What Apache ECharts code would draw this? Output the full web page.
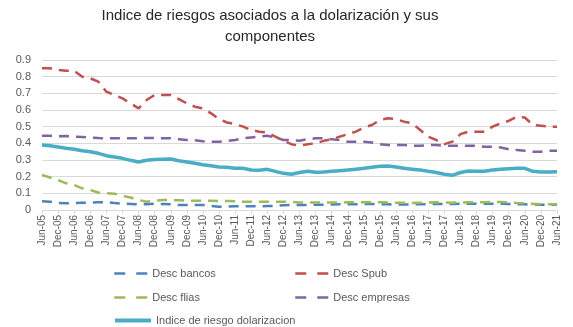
<!DOCTYPE html>
<html><head><meta charset="utf-8">
<script src="https://cdn.jsdelivr.net/npm/echarts@6/dist/echarts.min.js"></script>
<style>html,body{margin:0;padding:0;background:#fff}#c{width:573px;height:327px}</style>
</head><body><div id="c"></div>
<script>
const categories = ['Jun-05','Sep-05','Dec-05','Mar-06','Jun-06','Sep-06','Dec-06','Mar-07','Jun-07','Sep-07','Dec-07','Mar-08','Jun-08','Sep-08','Dec-08','Mar-09','Jun-09','Sep-09','Dec-09','Mar-10','Jun-10','Sep-10','Dec-10','Mar-11','Jun-11','Sep-11','Dec-11','Mar-12','Jun-12','Sep-12','Dec-12','Mar-13','Jun-13','Sep-13','Dec-13','Mar-14','Jun-14','Sep-14','Dec-14','Mar-15','Jun-15','Sep-15','Dec-15','Mar-16','Jun-16','Sep-16','Dec-16','Mar-17','Jun-17','Sep-17','Dec-17','Mar-18','Jun-18','Sep-18','Dec-18','Mar-19','Jun-19','Sep-19','Dec-19','Mar-20','Jun-20','Sep-20','Dec-20','Mar-21','Jun-21'];

const descBancos = [0.052,0.05,0.042,0.04,0.042,0.043,0.044,0.046,0.047,0.042,
0.038,0.036,0.034,0.034,0.038,0.036,0.034,0.03,0.03,0.03,
0.03,0.025,0.02,0.02,0.022,0.022,0.022,0.022,0.024,0.025,
0.028,0.03,0.03,0.03,0.031,0.032,0.033,0.034,0.034,0.035,
0.036,0.036,0.035,0.034,0.033,0.033,0.034,0.034,0.035,0.036,
0.036,0.036,0.037,0.037,0.038,0.038,0.038,0.038,0.036,0.035,
0.034,0.033,0.032,0.032,0.032];

const descSpub = [0.85,0.85,0.84,0.835,0.835,0.80,0.79,0.77,0.71,0.69,
0.67,0.64,0.61,0.66,0.69,0.69,0.69,0.665,0.64,0.62,
0.61,0.58,0.545,0.525,0.515,0.50,0.48,0.47,0.465,0.44,
0.415,0.395,0.385,0.395,0.40,0.415,0.425,0.44,0.455,0.47,
0.495,0.51,0.54,0.55,0.545,0.53,0.52,0.48,0.44,0.42,
0.395,0.41,0.455,0.47,0.47,0.47,0.50,0.52,0.535,0.56,
0.555,0.51,0.505,0.50,0.50];

const descFlias = [0.21,0.195,0.18,0.16,0.15,0.13,0.12,0.105,0.10,0.098,
0.085,0.075,0.06,0.05,0.055,0.06,0.06,0.058,0.056,0.056,
0.056,0.055,0.054,0.054,0.052,0.05,0.05,0.05,0.05,0.05,
0.05,0.048,0.045,0.045,0.045,0.045,0.045,0.045,0.046,0.046,
0.046,0.046,0.046,0.045,0.044,0.043,0.042,0.044,0.045,0.046,
0.045,0.044,0.045,0.046,0.046,0.047,0.048,0.048,0.047,0.042,
0.04,0.037,0.035,0.034,0.034];

const descEmpresas = [0.446,0.445,0.443,0.444,0.44,0.438,0.435,0.432,0.43,0.43,
0.43,0.43,0.43,0.432,0.432,0.43,0.43,0.425,0.42,0.418,
0.412,0.41,0.41,0.415,0.42,0.43,0.435,0.44,0.445,0.435,
0.42,0.42,0.415,0.425,0.43,0.43,0.425,0.42,0.41,0.41,
0.41,0.405,0.395,0.39,0.39,0.39,0.385,0.385,0.39,0.39,
0.385,0.385,0.385,0.385,0.385,0.38,0.38,0.375,0.365,0.36,
0.355,0.35,0.35,0.355,0.355];

const indiceRiesgo = [0.39,0.385,0.378,0.37,0.364,0.356,0.35,0.34,0.326,0.318,
0.31,0.298,0.288,0.298,0.303,0.305,0.306,0.296,0.288,0.28,
0.272,0.265,0.258,0.256,0.25,0.25,0.24,0.238,0.244,0.232,
0.22,0.215,0.225,0.232,0.226,0.228,0.232,0.236,0.24,0.245,
0.25,0.256,0.262,0.264,0.258,0.25,0.245,0.24,0.232,0.225,
0.215,0.208,0.225,0.234,0.232,0.232,0.24,0.244,0.248,0.25,
0.25,0.232,0.228,0.228,0.23];

const names = ['Desc bancos','Desc Spub','Desc flias','Desc empresas','Indice de riesgo dolarizacion'];
const colors = ['#4F81BD','#C0504D','#9BBB59','#8064A2','#4BACC6'];
const values = [descBancos, descSpub, descFlias, descEmpresas, indiceRiesgo];

const FONT = "'Liberation Sans', Arial, sans-serif";
const dash = [10, 7];

const series = names.map((n, i) => ({
  name: n, type: 'line', data: values[i], symbol: 'none', showSymbol: false,
  lineStyle: { color: colors[i], width: i === 4 ? 3.5 : 2.5, type: i === 4 ? 'solid' : dash },
  itemStyle: { color: colors[i] },
  z: i === 4 ? 5 : 3
}));

const legendPos = [[108, 263], [289, 263], [108, 287], [289, 287], [108, 310]];
const legends = names.map((n, i) => ({
  data: [n], left: legendPos[i][0], top: legendPos[i][1],
  itemWidth: i === 4 ? 36 : 33, itemHeight: 14, itemGap: 4,
  itemStyle: { opacity: 0 },
  lineStyle: { type: i === 4 ? 'solid' : [11, 11], width: i === 4 ? 4 : 2.5, opacity: 1 },
  textStyle: { color: '#595959', fontSize: 11, fontFamily: FONT },
  selectedMode: false
}));

const chart = echarts.init(document.getElementById('c'), null, { renderer: 'canvas' });
chart.setOption({
  animation: false,
  backgroundColor: '#fff',
  title: {
    text: 'Indice de riesgos asociados a la dolarización y sus\ncomponentes',
    left: 265, top: 0, textAlign: 'center',
    textStyle: { fontFamily: FONT, fontSize: 15, fontWeight: 'normal', color: '#262626', lineHeight: 21 }
  },
  legend: legends,
  grid: { left: 42, right: 16, top: 60, bottom: 117, containLabel: false },
  xAxis: {
    type: 'category', data: categories, boundaryGap: false,
    axisLine: { lineStyle: { color: '#D9D9D9' } },
    axisTick: { interval: 1, length: 4, lineStyle: { color: '#D9D9D9' } },
    axisLabel: { interval: 1, rotate: 90, fontSize: 10, color: '#595959', fontFamily: FONT, margin: 5 }
  },
  yAxis: {
    type: 'value', min: 0, max: 0.9, interval: 0.1,
    axisLine: { show: false }, axisTick: { show: false },
    splitLine: { lineStyle: { color: '#D9D9D9' } },
    axisLabel: { fontSize: 11, color: '#595959', fontFamily: FONT, margin: 11,
      formatter: v => v === 0 ? '0' : v.toFixed(1) }
  },
  series: series
});
</script></body></html>
